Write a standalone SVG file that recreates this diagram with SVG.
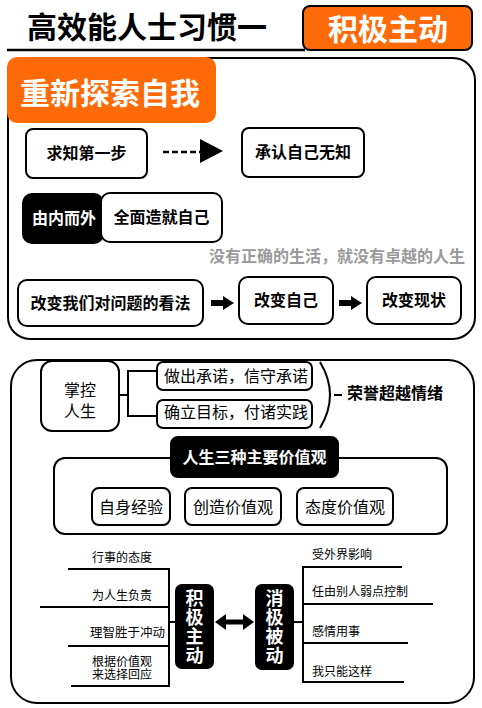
<svg xmlns="http://www.w3.org/2000/svg" width="482" height="708" viewBox="0 0 482 708">
<style>
text{font-family:"Noto Sans CJK SC","Noto Sans",sans-serif;fill:#000}
.b{font-weight:bold}
.w{fill:#fff}
.box{fill:#fff;stroke:#000;stroke-width:2}
.blk{fill:#000;stroke:#000;stroke-width:2}
.org{fill:#FF6A08}
.ln{fill:none;stroke:#000;stroke-width:2}
.m{text-anchor:middle}
.v{writing-mode:vertical-rl;letter-spacing:1px}
</style>
<rect width="482" height="708" fill="#fff"/>

<g id="header">
<text x="27" y="38" font-size="30" class="b">高效能人士习惯一</text>
<line x1="7" y1="50" x2="305" y2="50" stroke="#000" stroke-width="2.5"/>
</g>
<g id="title-tag">
<rect x="303" y="6" width="169" height="44" rx="7" class="org" stroke="#000" stroke-width="2"/>
<text x="388" y="40" font-size="30" class="b w m">积极主动</text>
</g>

<g id="panel1">
<rect x="8" y="58" width="467" height="281" rx="22" class="box"/>
</g>
<g id="section-tag">
<rect x="7" y="57" width="209" height="66" rx="10" class="org"/>
<text x="110" y="104" font-size="30" class="b w m">重新探索自我</text>
</g>

<g id="n-qiuzhi"><rect x="26" y="129" width="121" height="49" rx="7" class="box"/><text x="86.5" y="158.5" font-size="16" class="b m">求知第一步</text></g>
<g id="n-chengren"><rect x="242" y="128" width="122" height="49" rx="7" class="box"/><text x="303" y="157.5" font-size="16" class="b m">承认自己无知</text></g>
<g id="n-youneierwai"><rect x="23" y="194" width="80" height="49" rx="9" class="blk"/><text x="64" y="224" font-size="16" class="b w m">由内而外</text></g>
<g id="n-quanmian"><rect x="101" y="193" width="121" height="49" rx="9" class="box"/><text x="161.5" y="223" font-size="16" class="b m">全面造就自己</text></g>
<g id="quote"><text x="465" y="262" font-size="16" class="b" style="fill:#9a9a9a" text-anchor="end">没有正确的生活，就没有卓越的人生</text></g>
<g id="n-gaibian1"><rect x="18" y="280" width="185" height="46" rx="9" class="box"/><text x="110.5" y="309" font-size="16" class="b m">改变我们对问题的看法</text></g>
<g id="n-gaibian2"><rect x="239" y="277" width="94" height="47" rx="9" class="box"/><text x="286" y="306" font-size="16" class="b m">改变自己</text></g>
<g id="n-gaibian3"><rect x="367" y="277" width="94" height="47" rx="9" class="box"/><text x="414" y="306" font-size="16" class="b m">改变现状</text></g>

<g id="panel2">
<rect x="11" y="360" width="463" height="343" rx="26" class="box"/>
</g>
<g id="n-zhangkong"><rect x="41" y="361" width="78" height="70" rx="11" class="box"/><text font-size="16" class="m"><tspan x="80" y="396">掌控</tspan><tspan x="80" y="417">人生</tspan></text></g>
<g id="n-zuochu"><rect x="157" y="362" width="155" height="28" rx="6" class="box"/><text x="236" y="382" font-size="16" class="m">做出承诺，信守承诺</text></g>
<g id="n-queli"><rect x="157" y="400" width="155" height="28" rx="6" class="box"/><text x="236" y="418" font-size="16" class="m">确立目标，付诸实践</text></g>
<g id="n-rongyu"><text x="347" y="399" font-size="16" class="b">荣誉超越情绪</text></g>

<g id="n-values-frame"><rect x="54" y="458" width="393" height="76" rx="11" class="box"/></g>
<g id="n-values-title"><rect x="171" y="437" width="167" height="40" rx="7" class="blk"/><text x="254.5" y="463" font-size="16" class="b w m">人生三种主要价值观</text></g>
<g id="n-v1"><rect x="92" y="488" width="78" height="37" rx="7" class="box"/><text x="131" y="513" font-size="16" class="m">自身经验</text></g>
<g id="n-v2"><rect x="185" y="488" width="96" height="37" rx="7" class="box"/><text x="233" y="513" font-size="16" class="m">创造价值观</text></g>
<g id="n-v3"><rect x="297" y="488" width="96" height="37" rx="7" class="box"/><text x="345" y="513" font-size="16" class="m">态度价值观</text></g>

<g id="n-jiji"><rect x="176" y="585" width="37" height="83" rx="6" class="blk"/>
<text x="194.5" y="589" font-size="18" class="b w v">积极主动</text></g>
<g id="n-xiaoji"><rect x="256" y="585" width="37" height="84" rx="6" class="blk"/>
<text x="274.5" y="589" font-size="18" class="b w v">消极被动</text></g>

<g id="n-left-items">
<text x="92" y="562" font-size="12">行事的态度</text>
<text x="92" y="600" font-size="12">为人生负责</text>
<text x="90" y="637" font-size="12.5">理智胜于冲动</text>
<text font-size="12"><tspan x="92" y="666">根据价值观</tspan><tspan x="92" y="679">来选择回应</tspan></text>
</g>
<g id="n-right-items">
<text x="312" y="559" font-size="12">受外界影响</text>
<text x="312" y="596" font-size="12">任由别人弱点控制</text>
<text x="312" y="636" font-size="12">感情用事</text>
<text x="312" y="676" font-size="12">我只能这样</text>
</g>

<g id="connectors">
<line x1="163" y1="152" x2="200" y2="152" stroke="#000" stroke-width="2.5" stroke-dasharray="6,3"/>
<path d="M200,139L223,151L200,163z" fill="#000"/>
<path d="M211,300H223V296L234,303L223,310V306H211z" fill="#000"/>
<path d="M339,300H351V296L362,303L351,310V306H339z" fill="#000"/>
<path d="M119,395H128M157,371H128V416H157" class="ln"/>
<path d="M320,362Q340,395 320,428" class="ln"/>
<line x1="334" y1="395" x2="342" y2="395" stroke="#000" stroke-width="2"/>
<path d="M68,569H169V686H71M40,607H169M68,646H169M169,622H176" class="ln"/>
<path d="M293,622H303M402,567H303V682H404M303,604H433M303,643H408" class="ln"/>
<path d="M215,622L226,614V619.5H243V614L254,622L243,630V624.5H226V630z" fill="#000"/>
</g>
</svg>
